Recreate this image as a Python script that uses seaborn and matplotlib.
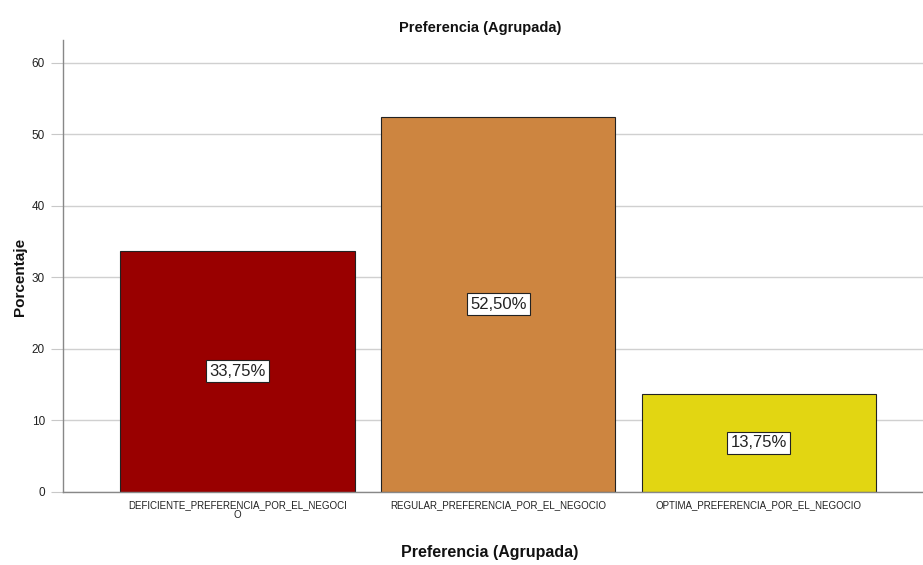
import matplotlib
matplotlib.use("Agg")
import matplotlib.pyplot as plt
import seaborn as sns
import pandas as pd

categorias = ["DEFICIENTE_PREFERENCIA_POR_EL_NEGOCI\nO",
              "REGULAR_PREFERENCIA_POR_EL_NEGOCIO",
              "OPTIMA_PREFERENCIA_POR_EL_NEGOCIO"]
porcentajes = [33.75, 52.50, 13.75]
etiquetas = ["33,75%", "52,50%", "13,75%"]
colores = ["#990000", "#CD8540", "#E2D612"]
yticks = [0, 10, 20, 30, 40, 50, 60]

sns.set_theme(style="white")
plt.rcParams["font.family"] = ["Liberation Sans", "DejaVu Sans"]

df = pd.DataFrame({"cat": categorias, "pct": porcentajes})

fig = plt.figure(figsize=(9.23, 5.65), dpi=100)
ax = fig.add_axes([63 / 923, 1 - 492 / 565, (923 - 63) / 923, (492 - 40) / 565])

sns.barplot(data=df, x="cat", y="pct", hue="cat", palette=colores,
            width=0.9, edgecolor="#222222", linewidth=0.8,
            legend=False, ax=ax, zorder=3, saturation=1)

for i, (v, t) in enumerate(zip(porcentajes, etiquetas)):
    ax.text(i, v / 2, t, ha="center", va="center", fontsize=12, color="#222222",
            zorder=5,
            bbox=dict(boxstyle="square,pad=0.2", facecolor="white",
                      edgecolor="#222222", linewidth=0.8))

ax.set_xlim(-0.67, 2.63)
ax.set_ylim(0, 63.2)
ax.set_yticks(yticks)
ax.set_yticklabels([str(t) for t in yticks], fontsize=8.5, color="#222222")
ax.tick_params(axis="x", labelsize=7, colors="#222222", length=0, pad=6)
ax.tick_params(axis="y", left=True, length=9, width=0.8, color="#C8C8C8", pad=4)
for lab in ax.get_xticklabels():
    lab.set_linespacing(0.9)

ax.yaxis.grid(True, color="#D0D0D0", linewidth=1, zorder=0)
ax.xaxis.grid(False)
for s in ["top", "right"]:
    ax.spines[s].set_visible(False)
for s in ["left", "bottom"]:
    ax.spines[s].set_color("#888888")
    ax.spines[s].set_linewidth(1)
    ax.spines[s].set_zorder(4)

ax.set_ylabel("Porcentaje", fontsize=11, fontweight="bold", color="#111111")
ax.yaxis.set_label_coords(-(63 - 27) / 860, (492 - 277) / 452)
ax.set_xlabel("Preferencia (Agrupada)", fontsize=11.5, fontweight="bold", color="#111111")
ax.xaxis.set_label_coords((490 - 63) / 860, -(545 - 492) / 452)
fig.text(480 / 923, 1 - 28 / 565, "Preferencia (Agrupada)",
         ha="center", va="center", fontsize=10.5, fontweight="bold", color="#111111")

fig.savefig("out.png", dpi=100)
